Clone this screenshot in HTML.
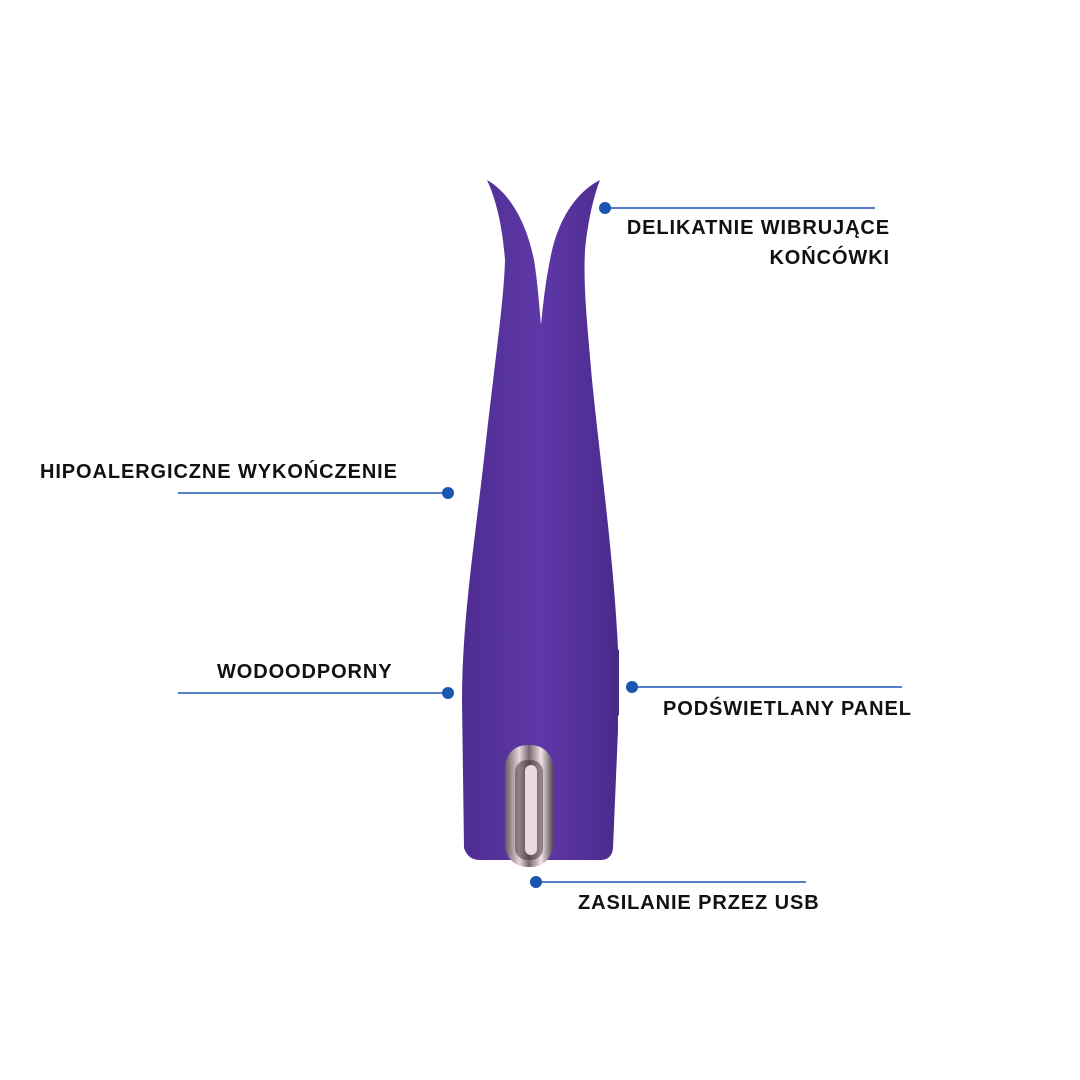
<!DOCTYPE html>
<html><head><meta charset="utf-8"><style>
body{margin:0;background:#fff;width:1080px;height:1080px;overflow:hidden;position:relative;font-family:"Liberation Sans",sans-serif}
.t{position:absolute;font-size:20px;font-weight:bold;color:#111;letter-spacing:0.9px;white-space:nowrap;line-height:30px}
</style></head><body>
<svg width="1080" height="1080" style="position:absolute;left:0;top:0">
<defs>
<linearGradient id="p" x1="0" x2="1"><stop offset="0" stop-color="#4e2d92"/><stop offset="0.5" stop-color="#5f38a8"/><stop offset="1" stop-color="#4a2a8c"/></linearGradient>
<linearGradient id="c" x1="0" x2="1"><stop offset="0" stop-color="#6a5560"/><stop offset="0.3" stop-color="#e8d8dc"/><stop offset="0.5" stop-color="#7a6670"/><stop offset="0.75" stop-color="#f0e4e6"/><stop offset="1" stop-color="#5a4a52"/></linearGradient>
</defs>
<path d="M487,180 C494,195 502,220 505,260 C504,300 495,360 485,450 C475,540 462,620 462,700 L464,848 Q468,860 480,860 L600,860 Q612,860 613,848 L618,730 L618,650 C614,560 600,460 592,380 C588,330 583,290 585,250 C588,220 594,195 600,180 C580,190 558,215 550,260 C545,285 543,305 541,325 C539,305 538,285 534,260 C525,215 505,190 487,180 Z" fill="url(#p)"/>
<path d="M612,645 L619,650 L619,715 L612,720 Z" fill="#4a2a88"/>
<rect x="505" y="745" width="48" height="122" rx="22" fill="url(#c)"/>
<rect x="515" y="760" width="28" height="100" rx="12" fill="#3a2a34" opacity="0.5"/>
<rect x="525" y="765" width="12" height="90" rx="6" fill="#e8dadf"/>
<g stroke="#1a55b0" stroke-width="1.6">
<line x1="605" y1="208" x2="875" y2="208"/>
<line x1="178" y1="493" x2="448" y2="493"/>
<line x1="178" y1="693" x2="448" y2="693"/>
<line x1="632" y1="687" x2="902" y2="687"/>
<line x1="536" y1="882" x2="806" y2="882"/>
</g>
<g fill="#1a55b0">
<circle cx="605" cy="208" r="6"/><circle cx="448" cy="493" r="6"/><circle cx="448" cy="693" r="6"/><circle cx="632" cy="687" r="6"/><circle cx="536" cy="882" r="6"/>
</g>
</svg>
<div class="t" style="right:190px;top:213px;text-align:right">DELIKATNIE WIBRUJĄCE<br>KOŃCÓWKI</div>
<div class="t" style="left:40px;top:457px">HIPOALERGICZNE WYKOŃCZENIE</div>
<div class="t" style="left:217px;top:657px">WODOODPORNY</div>
<div class="t" style="left:663px;top:694px">PODŚWIETLANY PANEL</div>
<div class="t" style="left:578px;top:888px">ZASILANIE PRZEZ USB</div>
</body></html>
